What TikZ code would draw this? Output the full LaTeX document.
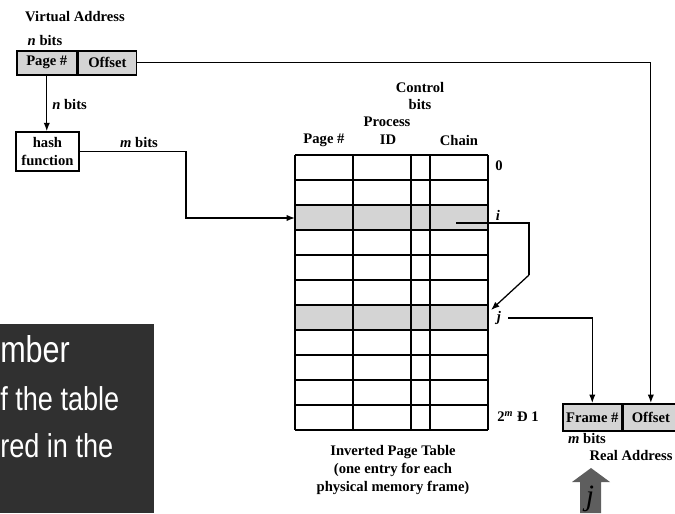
\documentclass[tikz,border=0pt]{standalone}
\usepackage{fontspec}
\setmainfont{Liberation Serif}
\newfontfamily\slidefont[FakeStretch=0.82]{Liberation Sans}
\usetikzlibrary{arrows.meta}

\definecolor{cellgray}{HTML}{D4D4D4}
\definecolor{slidebg}{HTML}{303030}
\definecolor{bigarrow}{HTML}{5E5E5E}

\begin{document}
\begin{tikzpicture}[x=0.025cm, y=-0.025cm,
    lbl/.style={font=\fontsize{10.4}{12.5}\selectfont\bfseries, inner sep=0pt, align=center},
    cell/.style={lbl, draw, line width=1.1pt, fill=cellgray, anchor=north west},
    link/.style={line width=0.9pt, -{Latex[length=6pt,width=4.5pt]}},
    grid/.style={line width=1.3pt}]
  \useasboundingbox (0,0) rectangle (675,513);

  % virtual address
  \node[lbl] (vtitle) at (75,17) {Virtual Address};
  \node[lbl] (vbits) at (45,40) {\textit{n} bits};
  \node[cell, minimum width=1.5cm, minimum height=0.6cm] (vpage) at (16,50) {Page \#};
  \node[cell, minimum width=1.45cm, minimum height=0.6cm] (voff) at (vpage.north east) {Offset};

  % hash function
  \node[lbl, draw, line width=1.1pt, minimum width=1.575cm, minimum height=0.975cm] (hash) at (47.5,151.5) {hash\\function};
  \draw[link] (vpage.south) -- (vpage.south |- hash.north);
  \node[lbl, anchor=west] (hbits) at (52,104) {\textit{n} bits};
  \node[lbl] (mbits) at (139,142) {\textit{m} bits};

  % inverted page table, 11 rows
  \fill[cellgray] (295,205) rectangle (488,230);
  \fill[cellgray] (295,305) rectangle (488,330);
  \foreach \y in {155,180,...,430}
    \draw[grid] (295,\y) -- (488,\y);
  \foreach \x in {295,353,411,430,488}
    \draw[grid] (\x,155) -- (\x,430);

  \node[lbl] (hpage) at (324,140) {Page \#};
  \node[lbl] (hproc) at (387,122) {Process};
  \node[lbl] (hid) at (388,140) {ID};
  \node[lbl] (hctrl) at (420,96) {Control\\bits};
  \node[lbl] (hchain) at (459,140) {Chain};

  \node[lbl] (row0) at (499,166) {0};
  \node[lbl] (rowilbl) at (498,215) {\textit{i}};
  \node[lbl] (rowjlbl) at (499,318) {\textit{j}};
  \node[lbl] (rowlast) at (518,417) {2\textsuperscript{\textit{m}} Ð 1};
  \node[lbl] (caption) at (393,470) {Inverted Page Table\\(one entry for each\\physical memory frame)};

  \coordinate (bend) at (186,218);
  \coordinate (rowi) at (295,218);
  \draw[link] (hash.east) -| (bend) -- (rowi);

  % chain pointer i -> j
  \coordinate (chaini) at (456,223);
  \coordinate (chainr) at (529,223);
  \coordinate (chaind) at (529,275);
  \coordinate (rowj) at (491,310);
  \draw[line width=0.9pt] (chaini) -- (chainr) -- (chaind);
  \draw[link] (chaind) -- (rowj);

  % real address
  \node[cell, minimum width=1.475cm, minimum height=0.675cm] (fframe) at (562,403) {Frame \#};
  \node[cell, minimum width=1.375cm, minimum height=0.675cm] (foff) at (fframe.north east) {Offset};
  \node[lbl] (fbits) at (587,438) {\textit{m} bits};
  \node[lbl] (ftitle) at (631,455) {Real Address};

  \coordinate (jout) at (508,318);
  \draw[link] (jout) -| (fframe.north);
  \draw[link] (voff.east) -| (foff.north);

  % big arrow
  \fill[bigarrow] (580,513) -- (580,482) -- (572,482) -- (591,468) -- (610,482) -- (601,482) -- (601,513) -- cycle;
  \node[font=\fontsize{21}{21}\selectfont\itshape, text=black] (bigj) at (590,499) {j};

  % slide text box
  \fill[slidebg] (0,324) rectangle (154,513);
  \node[anchor=base west, inner sep=0pt, text=white, font=\slidefont\fontsize{26.5}{30}\selectfont] (slide1) at (0,362) {mber};
  \node[anchor=base west, inner sep=0pt, text=white, font=\slidefont\fontsize{23.5}{28}\selectfont] (slide2) at (0,410) {f the table};
  \node[anchor=base west, inner sep=0pt, text=white, font=\slidefont\fontsize{23.5}{28}\selectfont] (slide3) at (0,457) {red in the};
\end{tikzpicture}
\end{document}
